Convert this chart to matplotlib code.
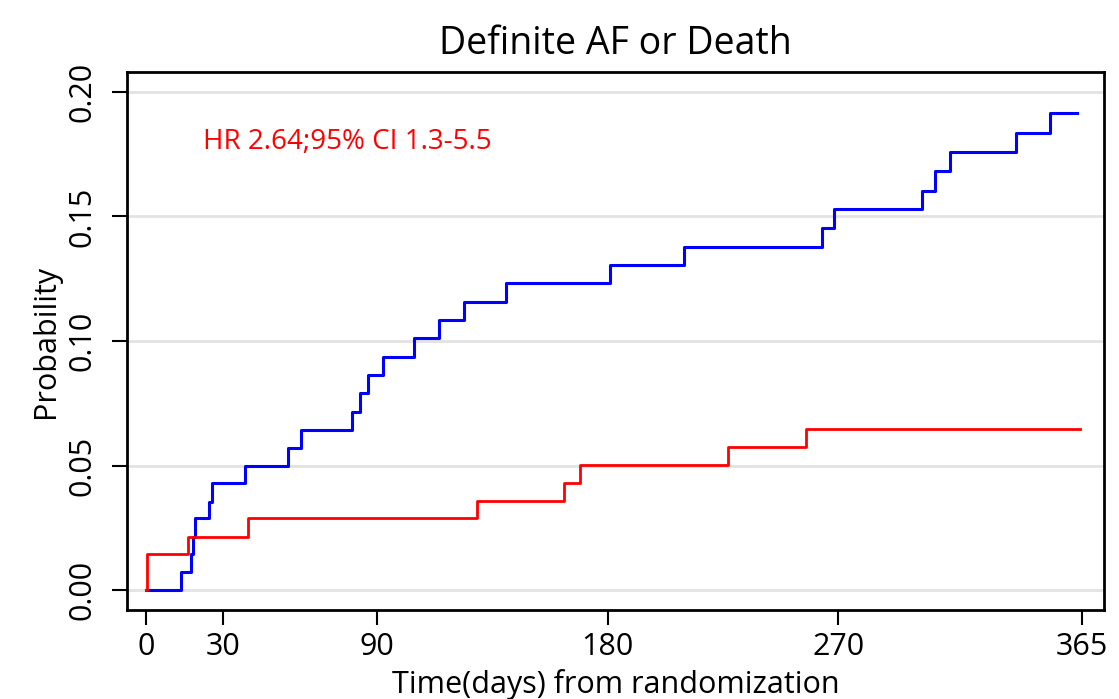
import matplotlib.pyplot as plt

# Kaplan-Meier style cumulative probabilities
blue_days = [0, 13.7, 17.6, 18.2, 19.3, 24.7, 25.6, 38.6, 55.5, 60.3, 80.5, 83.5, 86.5,
             92.4, 104.4, 114.3, 124.2, 140.2, 180.9, 209.9, 263.6, 268.4, 302.5, 307.7,
             313.5, 339.4, 352.3, 363]
blue_prob = [0, 0.0074, 0.0145, 0.0214, 0.0288, 0.0355, 0.0428, 0.0499, 0.0569, 0.0643,
             0.0716, 0.0790, 0.0863, 0.0937, 0.1011, 0.1084, 0.1158, 0.1232, 0.1305,
             0.1379, 0.1452, 0.1529, 0.1604, 0.1683, 0.1758, 0.1837, 0.1914, 0.1914]

red_days = [0, 0.5, 16.5, 39.9, 129.2, 163, 169.1, 227.1, 257.4, 364]
red_prob = [0, 0.0143, 0.0214, 0.0288, 0.0359, 0.0431, 0.0501, 0.0574, 0.0647, 0.0647]

x_ticks = [0, 30, 90, 180, 270, 365]
y_ticks = [0.00, 0.05, 0.10, 0.15, 0.20]

plt.rcParams['font.family'] = ['Open Sans', 'DejaVu Sans']

fig = plt.figure(figsize=(11.19, 6.99), dpi=100)
ax = fig.add_axes([0.1132, 0.1273, 0.8738, 0.7697])

for y in y_ticks:
    ax.axhline(y, color='#e2e2e2', lw=2, zorder=0)

ax.step(blue_days, blue_prob, where='post', color='#0000ff', lw=2.2)
ax.step(red_days, red_prob, where='post', color='#ff0000', lw=2.0)

ax.set_xlim(-7.5, 373.7)
ax.set_ylim(-0.008, 0.208)
ax.set_xticks(x_ticks)
ax.set_yticks(y_ticks)
ax.set_yticklabels(['%.2f' % v for v in y_ticks], rotation=90, va='center')
ax.tick_params(labelsize=22, length=11, width=1.5)
ax.tick_params(axis='x', pad=5)
ax.tick_params(axis='y', pad=10)

for s in ax.spines.values():
    s.set_linewidth(2)

ax.text(0.078, 0.870, 'HR 2.64;95% CI 1.3-5.5', transform=ax.transAxes,
        color='#ff0000', fontsize=20, va='center')

ax.set_title('Definite AF or Death', fontsize=27, pad=13)
ax.set_xlabel('Time(days) from randomization', fontsize=22, labelpad=5)
ax.set_ylabel('Probability', fontsize=22, labelpad=5)

plt.savefig('out.png', dpi=100)
